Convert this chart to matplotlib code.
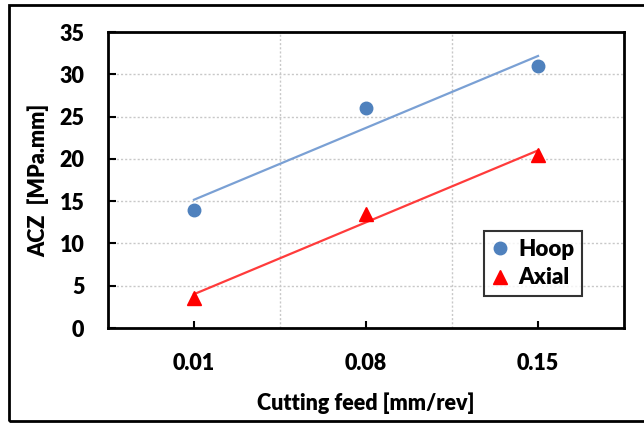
import numpy as np
import matplotlib
matplotlib.use("Agg")
import matplotlib.pyplot as plt
from matplotlib.patches import Rectangle

plt.rcParams['font.family'] = ['Lato', 'DejaVu Sans']
plt.rcParams['font.weight'] = 'heavy'

feeds = ["0.01", "0.08", "0.15"]
hoop = [14.0, 26.0, 31.0]
axial = [3.5, 13.5, 20.5]

fig = plt.figure(figsize=(6.44, 4.24), dpi=100)
ax = fig.add_axes([0.1677, 0.2264, 0.8013, 0.6981])

x = np.arange(1, len(feeds) + 1)

# linear trend lines
for vals, col in [(hoop, "#7aa0d4"), (axial, "#ff3b3b")]:
    k, b = np.polyfit(x, vals, 1)
    ax.plot(x, k * x + b, color=col, lw=1.6, zorder=2)

ax.plot(x, hoop, "o", color="#4f81bd", ms=9, label="Hoop", zorder=3, linestyle="none")
ax.plot(x, axial, "^", color="#ff0000", ms=10, label="Axial", zorder=3, linestyle="none")

ax.set_xlim(0.5, 3.5)
ax.set_ylim(0, 35)
ax.set_yticks(np.arange(0, 36, 5))
ax.set_xticks(x)
ax.set_xticklabels(feeds)
ax.set_xticks([1.5, 2.5], minor=True)

ax.grid(True, axis="y", which="major", color="#c8c8c8", ls=(0, (1.5, 1.5)), lw=1.0)
ax.grid(True, axis="x", which="minor", color="#c8c8c8", ls=(0, (1.5, 1.5)), lw=1.0)
ax.set_axisbelow(True)

for s in ax.spines.values():
    s.set_linewidth(2.0)
    s.set_color("black")

ax.tick_params(axis="y", direction="in", length=6, width=1.5, pad=17, labelsize=15.5)
ax.tick_params(axis="x", which="major", direction="in", length=5, width=1.5, pad=18, labelsize=15.5)
ax.tick_params(axis="x", which="minor", length=0)

ax.set_xlabel("Cutting feed [mm/rev]", fontsize=15.5, fontweight="heavy", labelpad=13)
ax.set_ylabel("ACZ  [MPa.mm]", fontsize=15.5, fontweight="heavy", labelpad=7)

leg = ax.legend(loc="lower right", bbox_to_anchor=(0.94, 0.07), fontsize=16,
                frameon=True, fancybox=False, edgecolor="black",
                handlelength=0.8, handletextpad=0.4, borderpad=0.35, labelspacing=0.35)
leg.get_frame().set_linewidth(1.5)
for t in leg.get_texts():
    t.set_fontweight("heavy")

# outer frame
fig.patches.append(Rectangle((9 / 644, 3 / 424), 640 / 644, 416 / 424,
                             transform=fig.transFigure, fill=False,
                             edgecolor="black", lw=2.0))

fig.savefig("out.png", dpi=100)
